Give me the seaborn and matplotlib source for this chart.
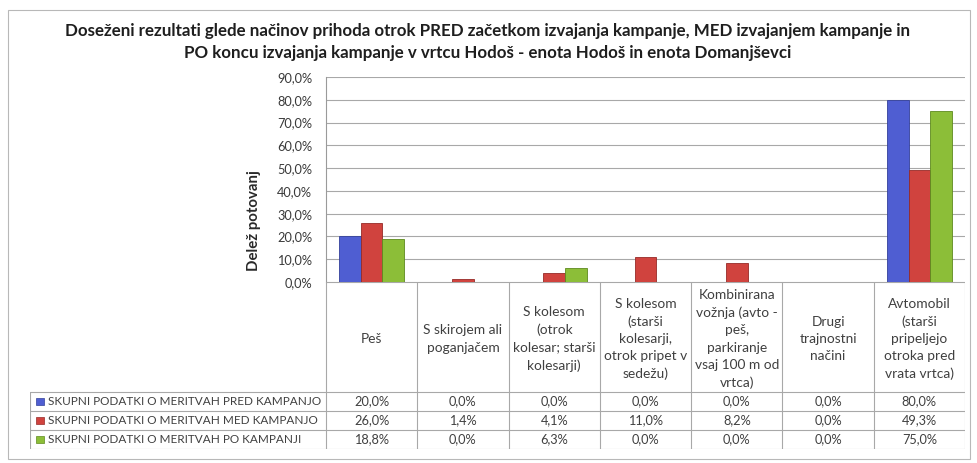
import matplotlib
matplotlib.use("Agg")
import matplotlib.pyplot as plt
import seaborn as sns
import pandas as pd
from matplotlib.ticker import FuncFormatter
from matplotlib.patches import Rectangle

# ---------------- data ----------------
categories = [
    "Peš",
    "S skirojem ali\npoganjačem",
    "S kolesom\n(otrok\nkolesar; starši\nkolesarji)",
    "S kolesom\n(starši\nkolesarji,\notrok pripet v\nsedežu)",
    "Kombinirana\nvožnja (avto -\npeš,\nparkiranje\nvsaj 100 m od\nvrtca)",
    "Drugi\ntrajnostni\nnačini",
    "Avtomobil\n(starši\npripeljejo\notroka pred\nvrata vrtca)",
]
series_names = [
    "SKUPNI PODATKI O MERITVAH PRED KAMPANJO",
    "SKUPNI PODATKI O MERITVAH MED KAMPANJO",
    "SKUPNI PODATKI O MERITVAH PO KAMPANJI",
]
pred = [20.0, 0.0, 0.0, 0.0, 0.0, 0.0, 80.0]
med = [26.0, 1.4, 4.1, 11.0, 8.2, 0.0, 49.3]
po = [18.8, 0.0, 6.3, 0.0, 0.0, 0.0, 75.0]
y_ticks = [0, 10, 20, 30, 40, 50, 60, 70, 80, 90]
title = ("Doseženi rezultati glede načinov prihoda otrok PRED začetkom izvajanja kampanje, MED izvajanjem kampanje in\n"
         "PO koncu izvajanja kampanje v vrtcu Hodoš - enota Hodoš in enota Domanjševci")
y_label = "Delež potovanj"

colors = ["#4F5ED2", "#D0433E", "#8CBE38"]
edge_colors = ["#33409A", "#962A27", "#5E8A1E"]

# ---------------- frame ----------------
sns.set_theme(style="white")
plt.rcParams["font.family"] = ["Lato", "DejaVu Sans"]
W, H = 977, 463
fig = plt.figure(figsize=(W / 100, H / 100), dpi=100)
fig.patch.set_facecolor("white")

def fx(px):
    return px / W

def fy(py):
    return 1 - py / H

# outer chart border
fig.add_artist(Rectangle((fx(8), fy(459)), fx(970) - fx(8), fy(10) - fy(459),
                         transform=fig.transFigure, fill=False, edgecolor="#B8B8B8", lw=0.8))

fig.text(fx(488), fy(42), title, ha="center", va="center", fontsize=12.2,
         fontweight="bold", color="#1E1E1E", linespacing=1.5)

# ---------------- bars ----------------
left, right, top, bottom = 326, 965, 77, 282
ax = fig.add_axes([fx(left), fy(bottom), fx(right) - fx(left), fy(top) - fy(bottom)])

keys = [f"c{i}" for i in range(len(categories))]
df = pd.DataFrame({
    "kat": keys * 3,
    "serija": sum([[s] * len(keys) for s in series_names], []),
    "vrednost": pred + med + po,
})
sns.barplot(data=df, x="kat", y="vrednost", hue="serija", order=keys,
            hue_order=series_names, palette=colors, width=0.71, gap=0,
            ax=ax, legend=False, saturation=1)
for i, cont in enumerate(ax.containers):
    for bar in cont:
        bar.set_edgecolor(edge_colors[i])
        bar.set_linewidth(0.6)

ax.set_xlim(-0.5, len(categories) - 0.5)
ax.set_ylim(0, 90)
ax.set_yticks(y_ticks)
ax.yaxis.set_major_formatter(FuncFormatter(lambda v, p: f"{v:.1f}".replace(".", ",") + "%"))
ax.tick_params(axis="y", labelsize=9.2, colors="#3A3A3A", length=0, pad=10)
ax.set_xticks([])
ax.set_xlabel("")
ax.set_ylabel(y_label, fontsize=10.8, fontweight="bold", color="#2A2A2A")
ax.yaxis.set_label_coords(-0.102, 0.30)
ax.yaxis.grid(True, color="#A8A8A8", lw=0.8)
ax.set_axisbelow(True)
for s in ["top", "right", "bottom"]:
    ax.spines[s].set_visible(False)
ax.spines["left"].set_color("#9A9A9A")
ax.spines["left"].set_linewidth(0.8)

# ---------------- data table ----------------
tab_left, tab_top, tab_bottom = 30, 282, 449
colw = (right - left) / len(categories)
legend_w = (left - tab_left) / colw
tax = fig.add_axes([fx(tab_left), fy(tab_bottom), fx(right) - fx(tab_left), fy(tab_top) - fy(tab_bottom)])
tax.set_xlim(-0.5 - legend_w, len(categories) - 0.5)
tax.set_ylim(tab_bottom, tab_top)
tax.axis("off")

header_bottom = 392
row_h = (tab_bottom - header_bottom) / 3
line_kw = dict(color="#A8A8A8", lw=0.8)
n = len(categories)
# header cells
tax.plot([-0.5, n - 0.5], [tab_top, tab_top], **line_kw)
for i in range(n + 1):
    tax.plot([i - 0.5, i - 0.5], [tab_top, tab_bottom], **line_kw)
for i, cat in enumerate(categories):
    tax.text(i, (tab_top + header_bottom) / 2 + 2, cat, ha="center", va="center",
             fontsize=9.9, color="#404040", linespacing=1.52)
# data rows
all_vals = [pred, med, po]
for r in range(4):
    yv = header_bottom + r * row_h
    tax.plot([-0.5 - legend_w, n - 0.5], [yv, yv], **line_kw)
tax.plot([-0.5 - legend_w, -0.5 - legend_w], [header_bottom, tab_bottom], **line_kw)
for r, (name, vals) in enumerate(zip(series_names, all_vals)):
    yc = header_bottom + (r + 0.5) * row_h
    tax.add_patch(Rectangle((-0.5 - legend_w + 0.07, yc - 3.5), 0.085, 7,
                            facecolor=colors[r], edgecolor=edge_colors[r], lw=0.5))
    tax.text(-0.5 - legend_w + 0.2, yc, name, ha="left", va="center",
             fontsize=8.5, color="#404040")
    for i, v in enumerate(vals):
        tax.text(i, yc, f"{v:.1f}".replace(".", ",") + "%", ha="center", va="center",
                 fontsize=9.2, color="#404040")

fig.savefig("out.png", dpi=100)
